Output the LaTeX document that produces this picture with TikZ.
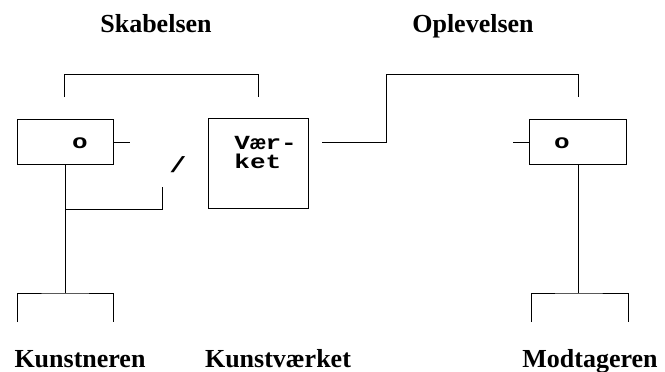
\documentclass[tikz,border=0pt]{standalone}
\usepackage{fontspec}
\setmainfont{Liberation Serif}
\newfontfamily\typefont[FakeStretch=1.3]{Liberation Mono}
\usetikzlibrary{positioning}

\tikzset{
  boks/.style={draw, inner sep=0pt},
  titel/.style={font=\bfseries\fontsize{26}{28}\selectfont, anchor=base, inner sep=0pt},
  maskine/.style={font=\typefont\bfseries\fontsize{20}{19}\selectfont, inner sep=0pt}
}

\begin{document}
\begin{tikzpicture}[x=1pt, y=-1pt, line width=0.8pt]
        \useasboundingbox (0,0) rectangle (665,372);
        % boxes
        \node [boks, minimum width=96pt, minimum height=45pt] (kun) at (65,141.5) {};
        \node [boks, minimum width=100pt, minimum height=90pt] (vaerk) at (258,163) {};
        \node [boks, minimum width=97pt, minimum height=45pt] (mod) at (577.5,141.5) {};
        \node [maskine] (kuno) at (80,143.5) {o};
        \node [maskine] (modo) at (562,143.5) {o};
        \node [maskine, anchor=base west] (vaerka) at (234,149) {Vær-};
        \node [maskine, anchor=base west] (vaerkb) at (234,168) {ket};
        \node [maskine, font=\typefont\bfseries\fontsize{22}{22}\selectfont] (skraa) at (178,165) {/};
        % coordinates
        \coordinate (kuntop) at (64,97);
        \coordinate (vaerktop) at (258,97);
        \coordinate (modtop) at (578,97);
        \coordinate (kunstub) at (130,142);
        \coordinate (modstub) at (513,142);
        \coordinate (vaerkend) at (322,142);
        \coordinate (gren) at (65,209);
        \coordinate (grenend) at (162,187);
        \coordinate (kunbund) at (65,293);
        \coordinate (modbund) at (578,293);
        % top connections
        \draw (kuntop) -- ++(0,-23) -| (vaerktop);
        \draw (vaerkend) -- (386,142) |- (578,74) -- (modtop);
        \draw (kun.east |- kunstub) -- (kunstub);
        \draw (mod.west |- modstub) -- (modstub);
        % lines downwards
        \draw (kun.south) -- (kunbund);
        \draw (gren) -| (grenend);
        \draw (mod.south -| modbund) -- (modbund);
        \draw (17,322) |- (kunbund) -| (113,322);
        \draw (531,322) |- (modbund) -| (628,322);
        % texts
        \node [titel] (skab) at (156,32) {Skabelsen};
        \node [titel] (oplev) at (473,32) {Oplevelsen};
        \node [titel] (kunstner) at (80,367) {Kunstneren};
        \node [titel] (kunstvaerk) at (278,367) {Kunstværket};
        \node [titel] (modtager) at (590,367) {Modtageren};
\end{tikzpicture}
\end{document}
